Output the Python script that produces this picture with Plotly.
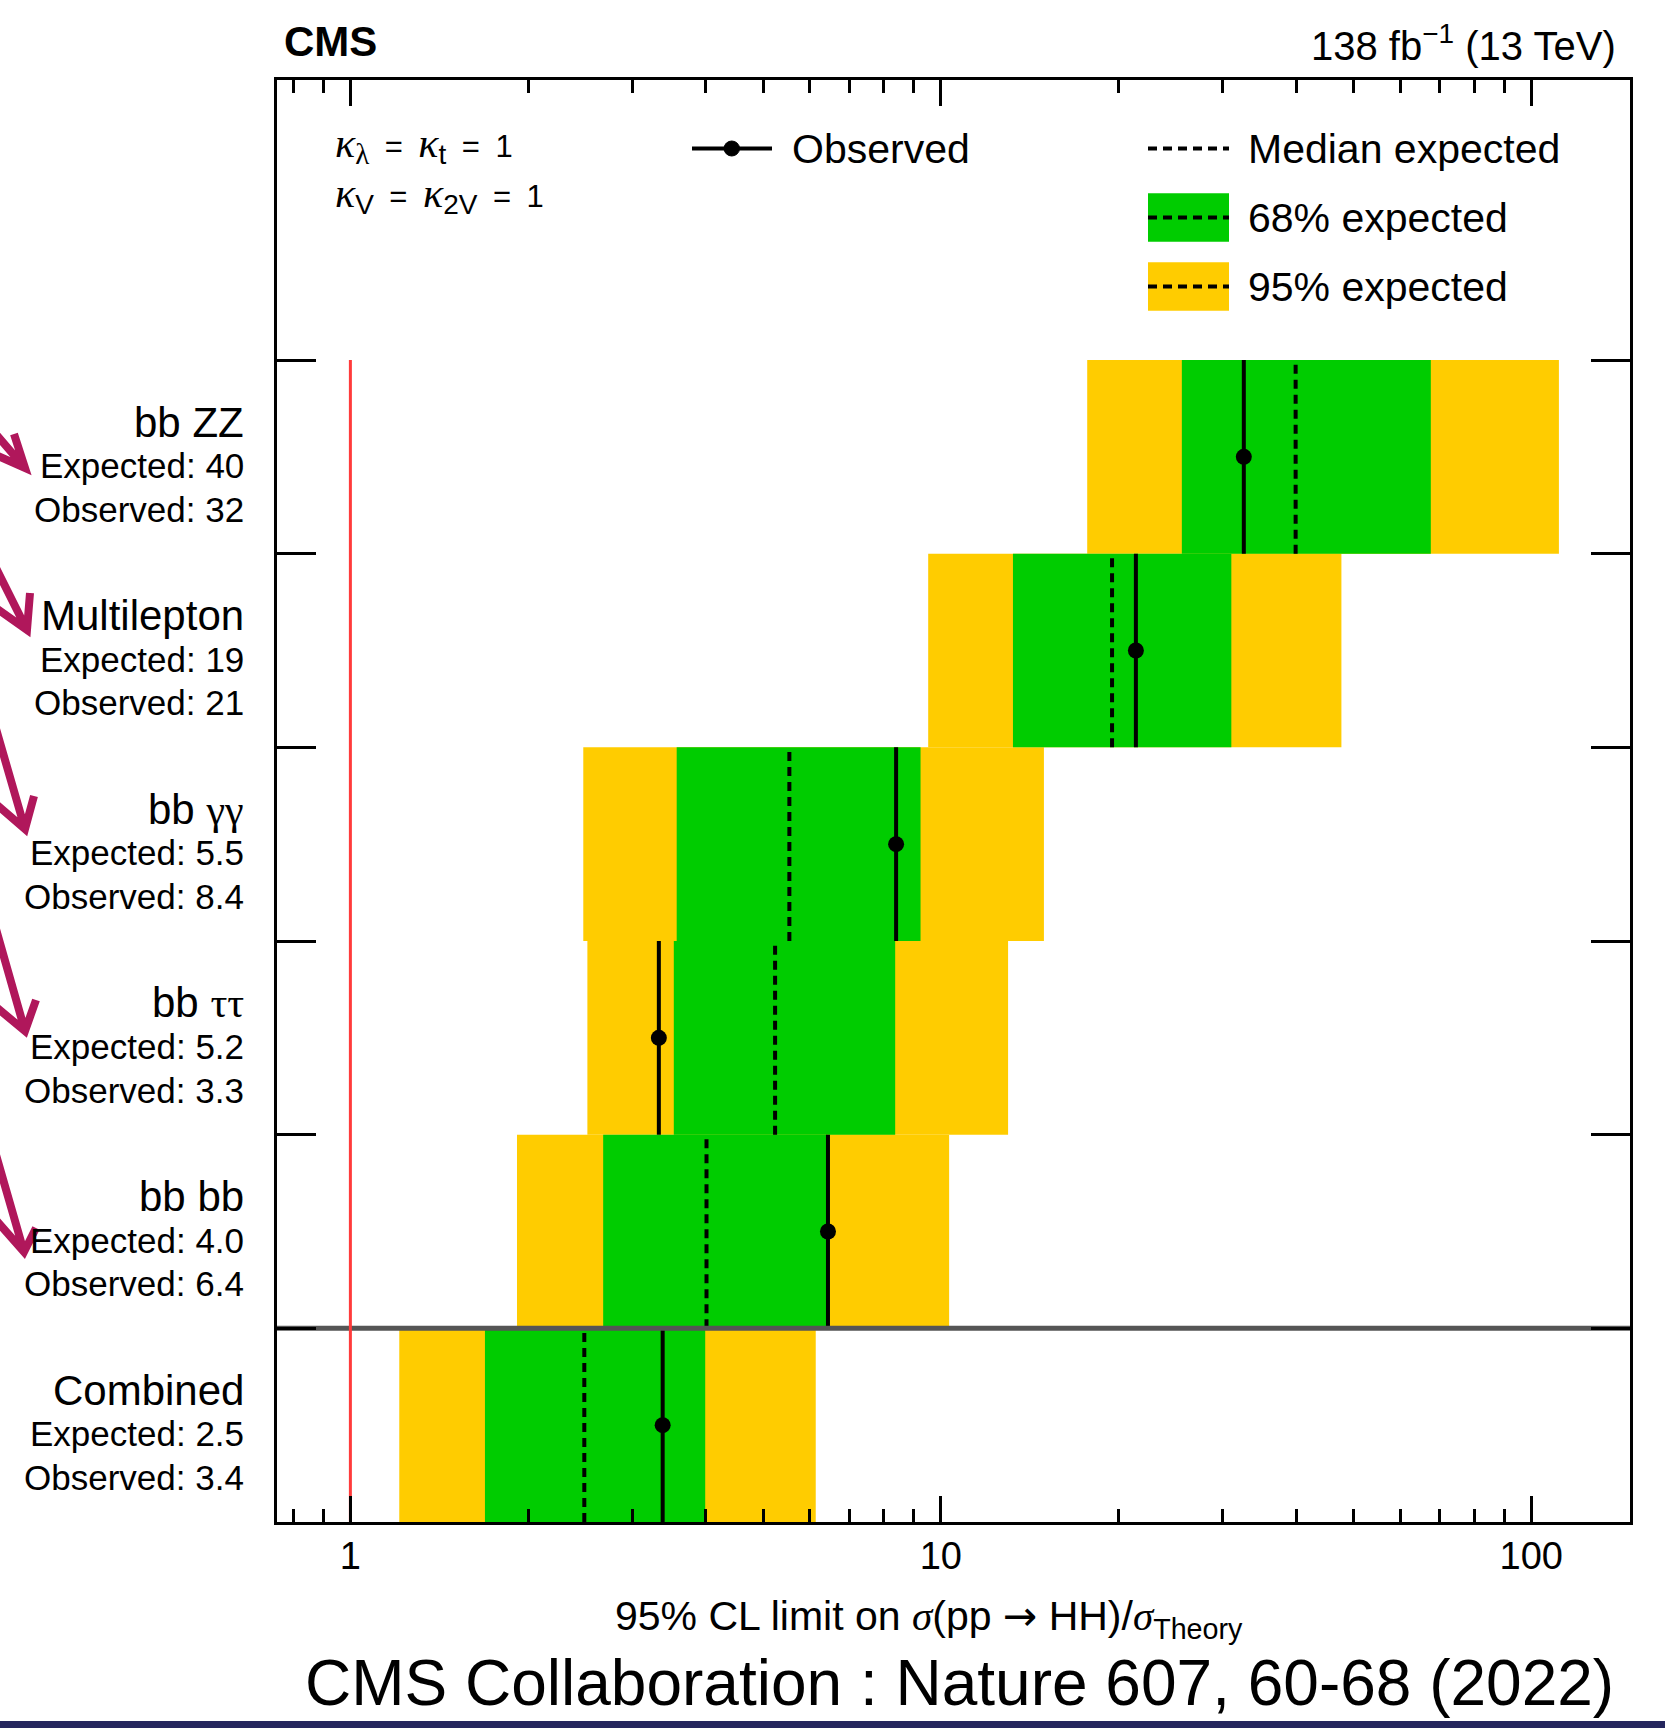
import plotly.graph_objects as go

# ---------------- data (rows from bottom to top) ----------------
channels = ["Combined", "bb bb", "bb ττ", "bb γγ", "Multilepton", "bb ZZ"]
exp_median = [2.49, 4.01, 5.24, 5.54, 19.5, 39.9]
observed = [3.38, 6.44, 3.33, 8.40, 21.4, 32.6]
band68_lo = [1.69, 2.68, 3.53, 3.57, 13.25, 25.6]
band68_hi = [3.99, 6.42, 8.37, 9.24, 31.05, 67.6]
band95_lo = [1.21, 1.915, 2.52, 2.48, 9.52, 17.7]
band95_hi = [6.14, 10.33, 13.0, 14.95, 47.7, 111.4]
exp_labels = ["2.5", "4.0", "5.2", "5.5", "19", "40"]
obs_labels = ["3.4", "6.4", "3.3", "8.4", "21", "32"]
xtick_vals = [1, 10, 100]
xtick_text = ["1", "10", "100"]
theory_ref = 1

# ---------------- styling ----------------
FONT = "Liberation Sans, Arial, Helvetica, sans-serif"
SERIF = "Liberation Serif"
YELLOW = "#FFCC00"
GREEN = "#00CC00"
RED = "#FF3B3B"
MAGENTA = "#B0175B"
DASH = "9px,6px"

W, H = 1665, 1728
L, R, T, B = 277, 35, 80, 206
PW, PH = W - L - R, H - T - B
XRANGE = [-0.1243, 2.1673]
YRANGE = [0, 7.446]


def px(x):
    return (x - L) / PW


def py(y):
    return (H - B - y) / PH


def span(s, family=None, size=None, italic=False):
    style = []
    if family:
        style.append("font-family:" + family)
    if size:
        style.append("font-size:%dpx" % size)
    inner = "<i>" + s + "</i>" if italic else s
    return '<span style="' + ";".join(style) + '">' + inner + "</span>"


def greek(s):
    return "".join(span(ch, SERIF) if ch in "τγ" else ch for ch in s)


fig = go.Figure()
n = len(channels)

# bands
for i in range(n):
    fig.add_trace(go.Scatter(
        x=[band95_lo[i], band95_hi[i], band95_hi[i], band95_lo[i], band95_lo[i]],
        y=[i, i, i + 1, i + 1, i], mode="lines", fill="toself",
        fillcolor=YELLOW, line=dict(width=0), hoverinfo="skip", showlegend=False))
for i in range(n):
    fig.add_trace(go.Scatter(
        x=[band68_lo[i], band68_hi[i], band68_hi[i], band68_lo[i], band68_lo[i]],
        y=[i, i, i + 1, i + 1, i], mode="lines", fill="toself",
        fillcolor=GREEN, line=dict(width=0), hoverinfo="skip", showlegend=False))

# median expected & observed lines
for i in range(n):
    fig.add_trace(go.Scatter(
        x=[exp_median[i], exp_median[i]], y=[i, i + 1], mode="lines",
        line=dict(color="black", width=4, dash=DASH), showlegend=False))
    fig.add_trace(go.Scatter(
        x=[observed[i], observed[i]], y=[i, i + 1], mode="lines",
        line=dict(color="black", width=4), showlegend=False))

fig.add_trace(go.Scatter(
    x=observed, y=[i + 0.5 for i in range(n)], mode="markers",
    marker=dict(color="black", size=16), showlegend=False))

# separator between combined and channels
fig.add_trace(go.Scatter(
    x=[10 ** XRANGE[0], 10 ** XRANGE[1]], y=[1, 1], mode="lines",
    line=dict(color="#555555", width=5), showlegend=False))

# theory reference line
fig.add_trace(go.Scatter(
    x=[theory_ref, theory_ref], y=[0, n], mode="lines",
    line=dict(color=RED, width=3), showlegend=False))

annotations = []

# channel labels
LABEL_X = px(246)
for i in range(n):
    annotations.append(dict(x=LABEL_X, y=i + 0.68, xref="paper", yref="y",
                            text=greek(channels[i]), showarrow=False,
                            xanchor="right", yanchor="middle",
                            font=dict(size=42, color="black")))
    annotations.append(dict(x=LABEL_X, y=i + 0.455, xref="paper", yref="y",
                            text="Expected: " + exp_labels[i], showarrow=False,
                            xanchor="right", yanchor="middle",
                            font=dict(size=35, color="black")))
    annotations.append(dict(x=LABEL_X, y=i + 0.23, xref="paper", yref="y",
                            text="Observed: " + obs_labels[i], showarrow=False,
                            xanchor="right", yanchor="middle",
                            font=dict(size=35, color="black")))

kap = span("κ", SERIF, 42, italic=True)
EQ = "\u2002=\u2002"
line1 = (kap + "<sub>" + span("λ", SERIF, 29) + "</sub>" + EQ + kap
         + "<sub>" + span("t", None, 28) + "</sub>" + EQ + "1")
line2 = (kap + "<sub>" + span("V", None, 28) + "</sub>" + EQ + kap
         + "<sub>" + span("2V", None, 28) + "</sub>" + EQ + "1")
sig = span("σ", SERIF, italic=True)
arrow_txt = span("→", "DejaVu Sans")
annotations += [
    dict(x=px(333), y=py(145), xref="paper", yref="paper", text=line1,
         showarrow=False, xanchor="left", yanchor="middle", font=dict(size=31)),
    dict(x=px(333), y=py(195), xref="paper", yref="paper", text=line2,
         showarrow=False, xanchor="left", yanchor="middle", font=dict(size=31)),
    dict(x=px(282), y=py(41), xref="paper", yref="paper", text="<b>CMS</b>",
         showarrow=False, xanchor="left", yanchor="middle", font=dict(size=42)),
    dict(x=px(1618), y=py(43), xref="paper", yref="paper",
         text="138 fb<sup>−1</sup> (13 TeV)",
         showarrow=False, xanchor="right", yanchor="middle", font=dict(size=40)),
    dict(x=px(929), y=py(1618), xref="paper", yref="paper",
         text="95% CL limit on " + sig + "(pp " + arrow_txt + " HH)/" + sig + "<sub>Theory</sub>",
         showarrow=False, xanchor="center", yanchor="middle", font=dict(size=41)),
    dict(x=px(959), y=py(1683), xref="paper", yref="paper",
         text="CMS Collaboration : Nature 607, 60-68 (2022)",
         showarrow=False, xanchor="center", yanchor="middle", font=dict(size=64)),
    # legend texts
    dict(x=px(790), y=py(149), xref="paper", yref="paper", text="Observed",
         showarrow=False, xanchor="left", yanchor="middle", font=dict(size=41)),
    dict(x=px(1246), y=py(149), xref="paper", yref="paper", text="Median expected",
         showarrow=False, xanchor="left", yanchor="middle", font=dict(size=41)),
    dict(x=px(1246), y=py(218), xref="paper", yref="paper", text="68% expected",
         showarrow=False, xanchor="left", yanchor="middle", font=dict(size=41)),
    dict(x=px(1246), y=py(287), xref="paper", yref="paper", text="95% expected",
         showarrow=False, xanchor="left", yanchor="middle", font=dict(size=41)),
]

shapes = []
# legend graphics
shapes.append(dict(type="line", xref="paper", yref="paper",
                   x0=px(692), x1=px(772), y0=py(148.5), y1=py(148.5),
                   line=dict(color="black", width=4)))
shapes.append(dict(type="circle", xref="paper", yref="paper",
                   x0=px(724), x1=px(739.5), y0=py(141), y1=py(156),
                   fillcolor="black", line=dict(color="black", width=1)))
shapes.append(dict(type="line", xref="paper", yref="paper",
                   x0=px(1148), x1=px(1229), y0=py(148.5), y1=py(148.5),
                   line=dict(color="black", width=4, dash=DASH)))
for (y0, y1, col) in [(193.3, 241.7, GREEN), (262.3, 310.7, YELLOW)]:
    shapes.append(dict(type="rect", xref="paper", yref="paper",
                       x0=px(1148), x1=px(1229), y0=py(y0), y1=py(y1),
                       fillcolor=col, line=dict(width=0)))
    shapes.append(dict(type="line", xref="paper", yref="paper",
                       x0=px(1148), x1=px(1229), y0=py((y0 + y1) / 2), y1=py((y0 + y1) / 2),
                       line=dict(color="black", width=4, dash=DASH)))

# magenta pointer arrows on the left (decorations, partly cut by the page edge)
arrows = [
    ((-12, 425), (25, 468), (14, 434), (-4, 455)),
    ((-8, 560), (27, 630), (30, 593), (-4, 608)),
    ((-6, 722), (25, 829), (34, 796), (-4, 804)),
    ((-6, 922), (25, 1031), (36, 1000), (-4, 1007)),
    ((-6, 1148), (24, 1252), (36, 1228), (-4, 1220)),
]
for tail, tip, a1, a2 in arrows:
    path = "M%f,%f L%f,%f M%f,%f L%f,%f L%f,%f" % (
        px(tail[0]), py(tail[1]), px(tip[0]), py(tip[1]),
        px(a1[0]), py(a1[1]), px(tip[0]), py(tip[1]), px(a2[0]), py(a2[1]))
    shapes.append(dict(type="path", xref="paper", yref="paper", path=path,
                       line=dict(color=MAGENTA, width=8)))

# dark bar at the bottom of the page
shapes.append(dict(type="rect", xref="paper", yref="paper",
                   x0=px(-5), x1=px(W + 5), y0=py(1721), y1=py(H + 5),
                   fillcolor="#25265E", line=dict(width=0)))

fig.update_layout(
    width=W, height=H,
    margin=dict(l=L, r=R, t=T, b=B),
    paper_bgcolor="white", plot_bgcolor="white",
    font=dict(family=FONT, color="black"),
    showlegend=False,
    annotations=annotations,
    shapes=shapes,
    xaxis=dict(type="log", range=XRANGE, showgrid=False, zeroline=False,
               showline=True, linewidth=3, linecolor="black", mirror="ticks",
               ticks="inside", ticklen=26, tickwidth=2.5, tickcolor="black",
               tickmode="array", tickvals=xtick_vals, ticktext=xtick_text,
               tickfont=dict(size=38), ticklabelstandoff=-2,
               minor=dict(ticks="inside", ticklen=13, tickwidth=2.5,
                          tickcolor="black", dtick="D1", showgrid=False)),
    yaxis=dict(range=YRANGE, showgrid=False, zeroline=False,
               showline=True, linewidth=3, linecolor="black", mirror="ticks",
               ticks="inside", ticklen=39, tickwidth=3, tickcolor="black",
               tickmode="array", tickvals=[1, 2, 3, 4, 5, 6],
               showticklabels=False),
)

fig.write_html("out.html",
               config={"displayModeBar": False},
               post_script="document.body.style.margin='0px';"
                           "document.body.style.overflow='hidden';")
